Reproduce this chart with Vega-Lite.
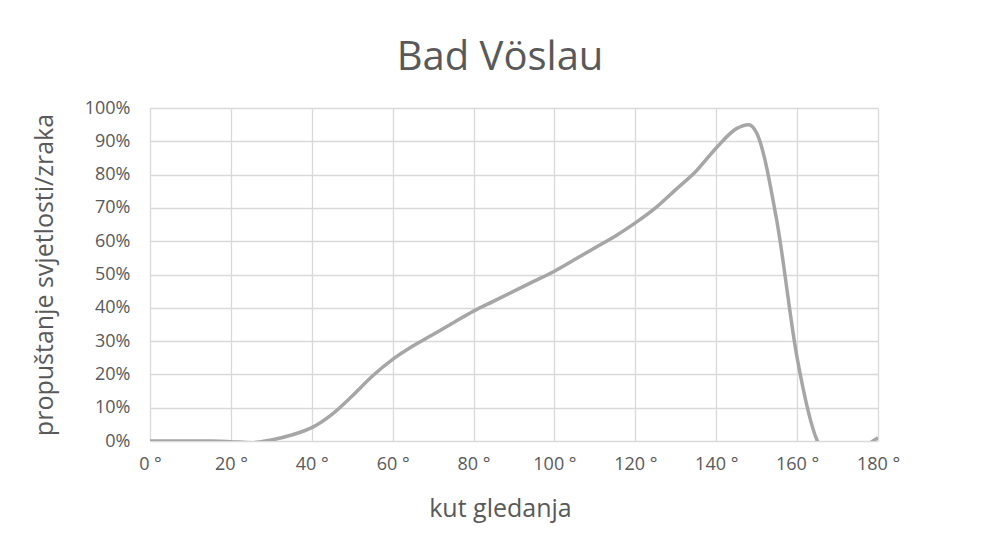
{
  "$schema": "https://vega.github.io/schema/vega-lite/v6.json",
  "autosize": "none",
  "width": 728,
  "height": 333,
  "padding": {"left": 150, "top": 108, "right": 122, "bottom": 109},
  "background": "white",
  "title": {
    "text": "Bad Vöslau",
    "font": "Open Sans",
    "fontSize": 40,
    "fontWeight": "normal",
    "color": "#595959",
    "anchor": "middle",
    "dx": -14,
    "offset": 21
  },
  "data": {
    "values": [
      {"kut": 0, "p": 0},
      {"kut": 5, "p": 0},
      {"kut": 10, "p": 0},
      {"kut": 15, "p": 0},
      {"kut": 20, "p": -0.2},
      {"kut": 25, "p": -0.5},
      {"kut": 30, "p": 0.3},
      {"kut": 35, "p": 1.8},
      {"kut": 40, "p": 4},
      {"kut": 45, "p": 8},
      {"kut": 50, "p": 13.5},
      {"kut": 55, "p": 19.5},
      {"kut": 60, "p": 24.5},
      {"kut": 65, "p": 28.5},
      {"kut": 70, "p": 32},
      {"kut": 75, "p": 35.5},
      {"kut": 80, "p": 39},
      {"kut": 85, "p": 42},
      {"kut": 90, "p": 45},
      {"kut": 95, "p": 48},
      {"kut": 100, "p": 51},
      {"kut": 105, "p": 54.5},
      {"kut": 110, "p": 58},
      {"kut": 115, "p": 61.5},
      {"kut": 120, "p": 65.5},
      {"kut": 125, "p": 70},
      {"kut": 130, "p": 75.5},
      {"kut": 135, "p": 81},
      {"kut": 140, "p": 88},
      {"kut": 145, "p": 93.8},
      {"kut": 148, "p": 95},
      {"kut": 150, "p": 92.5},
      {"kut": 155, "p": 66},
      {"kut": 160, "p": 25},
      {"kut": 165, "p": 0},
      {"kut": 170, "p": -7},
      {"kut": 175, "p": -3},
      {"kut": 180, "p": 1}
    ]
  },
  "mark": {
    "type": "line",
    "interpolate": "monotone",
    "color": "#A6A6A6",
    "strokeWidth": 3.5,
    "clip": true
  },
  "encoding": {
    "x": {
      "field": "kut",
      "type": "quantitative",
      "scale": {"domain": [0, 180], "nice": false},
      "axis": {
        "title": "kut gledanja",
        "values": [0, 20, 40, 60, 80, 100, 120, 140, 160, 180],
        "labelExpr": "datum.value + ' °'",
        "labelFont": "Open Sans",
        "labelFontSize": 18,
        "labelColor": "#595959",
        "labelPadding": 14,
        "labelFlush": false,
        "titleFont": "Open Sans",
        "titleFontSize": 25,
        "titleFontWeight": "normal",
        "titleColor": "#595959",
        "titleX": 350,
        "titlePadding": 23,
        "ticks": false,
        "domain": false,
        "grid": true,
        "gridColor": "#D9D9D9",
        "gridWidth": 1.3
      }
    },
    "y": {
      "field": "p",
      "type": "quantitative",
      "scale": {"domain": [0, 100], "nice": false},
      "axis": {
        "title": "propuštanje svjetlosti/zraka",
        "values": [0, 10, 20, 30, 40, 50, 60, 70, 80, 90, 100],
        "labelExpr": "datum.value + '%'",
        "labelFont": "Open Sans",
        "labelFontSize": 18,
        "labelColor": "#595959",
        "labelPadding": 20,
        "titleFont": "Open Sans",
        "titleFontSize": 25,
        "titleFontWeight": "normal",
        "titleColor": "#595959",
        "titlePadding": 27,
        "ticks": false,
        "domain": false,
        "grid": true,
        "gridColor": "#D9D9D9",
        "gridWidth": 1.3
      }
    }
  },
  "config": {"view": {"stroke": null}}
}
